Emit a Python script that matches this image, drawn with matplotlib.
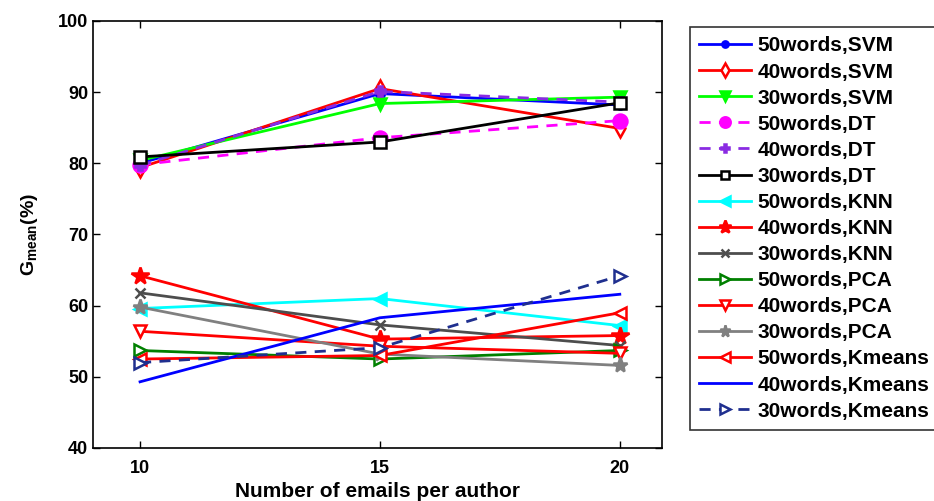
import matplotlib
matplotlib.use("Agg")
import matplotlib.pyplot as plt

plt.rcParams['font.family'] = ['Liberation Sans', 'DejaVu Sans']

emails = [10, 15, 20]

labels = [
    "50words,SVM", "40words,SVM", "30words,SVM",
    "50words,DT", "40words,DT", "30words,DT",
    "50words,KNN", "40words,KNN", "30words,KNN",
    "50words,PCA", "40words,PCA", "30words,PCA",
    "50words,Kmeans", "40words,Kmeans", "30words,Kmeans",
]

svm_50 = [80.0, 89.8, 88.2]
svm_40 = [79.4, 90.5, 84.9]
svm_30 = [80.4, 88.4, 89.3]
dt_50 = [79.8, 83.6, 86.0]
dt_40 = [79.7, 90.1, 88.6]
dt_30 = [80.9, 83.0, 88.5]
knn_50 = [59.6, 61.0, 57.2]
knn_40 = [64.2, 55.3, 55.8]
knn_30 = [61.8, 57.3, 54.4]
pca_50 = [53.7, 52.5, 53.7]
pca_40 = [56.4, 54.3, 53.3]
pca_30 = [59.8, 53.2, 51.6]
kmeans_50 = [52.5, 53.0, 59.0]
kmeans_40 = [49.3, 58.3, 61.6]
kmeans_30 = [52.0, 54.1, 64.2]

series = [svm_50, svm_40, svm_30, dt_50, dt_40, dt_30,
          knn_50, knn_40, knn_30, pca_50, pca_40, pca_30,
          kmeans_50, kmeans_40, kmeans_30]

# (colour, linestyle, marker, filled)
styles = [
    ("#0000ff", "-", "o", True),
    ("#ff0000", "-", "d", False),
    ("#00ff00", "-", "v", True),
    ("#ff00ff", "--", "o", True),
    ("#8a2be2", "--", "P", True),
    ("#000000", "-", "s", False),
    ("#00ffff", "-", "<", True),
    ("#ff0000", "-", "*", True),
    ("#4d4d4d", "-", "x", True),
    ("#008000", "-", ">", False),
    ("#ff0000", "-", "v", False),
    ("#808080", "-", "*", True),
    ("#ff0000", "-", "<", False),
    ("#0000ff", "-", "", True),
    ("#1f2f8f", "--", ">", False),
]
sizes = [6, 9, 9, 10, 7, 8, 9, 13, 7, 9, 9, 11, 9, 0, 9]

fig = plt.figure(figsize=(9.34, 5.01), dpi=100)
ax = fig.add_axes([0.0996, 0.1058, 0.6092, 0.8523])

for vals, lab, (col, ls, mk, filled), ms in zip(series, labels, styles, sizes):
    kw = dict(color=col, linestyle=ls, linewidth=2.0, label=lab,
              markersize=ms, markeredgewidth=1.8)
    if mk:
        kw["marker"] = mk
        kw["markerfacecolor"] = col if filled else "white"
        kw["markeredgecolor"] = col
    if ls == "--":
        kw["dashes"] = (4, 3)
    ax.plot(emails, vals, **kw)

ax.set_xlim(9.02, 20.88)
ax.set_ylim(40, 100)
ax.set_xticks(emails)
ax.set_yticks(range(40, 101, 10))
ax.tick_params(direction="in", top=True, right=True, length=5, width=1,
               labelsize=13)
ax.tick_params(axis="x", pad=9)
for lab in ax.get_xticklabels() + ax.get_yticklabels():
    lab.set_fontweight("bold")
for sp in ax.spines.values():
    sp.set_linewidth(1.2)

ax.set_xlabel("Number of emails per author", fontsize=15, fontweight="bold",
              labelpad=3)
ax.set_ylabel(r"G$_{\mathregular{mean}}$(%)", fontsize=14, fontweight="bold",
              labelpad=13)

leg = fig.legend(loc="upper left", bbox_to_anchor=(0.7388, 0.946),
                 bbox_transform=fig.transFigure, borderaxespad=0,
                 frameon=True, fancybox=False, edgecolor="black",
                 prop={"size": 15, "weight": "bold"}, handlelength=2.5,
                 handletextpad=0.3, labelspacing=0.34, borderpad=0.45,
                 markerscale=0.75)
leg.get_frame().set_linewidth(1.2)

fig.savefig("out.png", dpi=100)
